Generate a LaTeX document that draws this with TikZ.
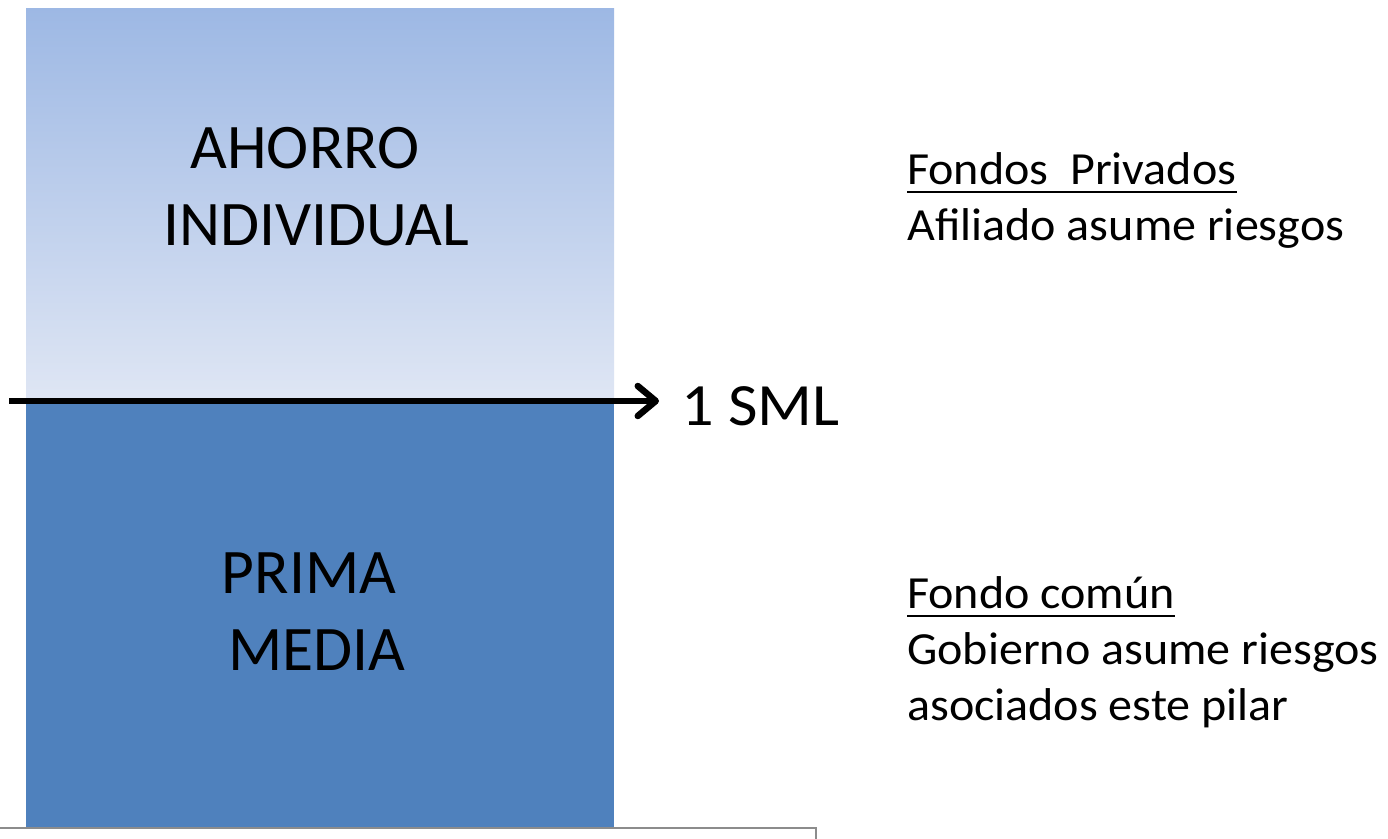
\documentclass[tikz,border=0pt]{standalone}
\usepackage{fontspec}
\setmainfont{Carlito}
\usetikzlibrary{arrows.meta}
\definecolor{topblue}{RGB}{157,184,228}
\definecolor{lowblue}{RGB}{223,230,244}
\definecolor{primablue}{RGB}{79,129,189}
\definecolor{boxgray}{RGB}{140,140,140}
\newcommand{\wide}[2]{\scalebox{#1}[1]{#2}}
\tikzset{
  bigtxt/.style={font=\fontsize{63.5}{77}\selectfont, inner sep=0pt, anchor=base},
  sidetxt/.style={font=\fontsize{46}{56}\selectfont, inner sep=0pt, anchor=base west},
  smltxt/.style={font=\fontsize{60}{70}\selectfont, inner sep=0pt, anchor=base west},
  uline/.style={line width=2pt},
}
\begin{document}
\begin{tikzpicture}[x=1pt,y=-1pt]
\useasboundingbox (0,0) rectangle (1388,838);
\clip (0,0) rectangle (1388,838);
% top gradient block
\shade[top color=topblue, bottom color=lowblue] (26,8) rectangle (614,401);
% bottom block
\fill[primablue] (26,401) rectangle (614,845);
% gray box at bottom
\draw[boxgray, line width=1.6pt, fill=white] (-3,828) rectangle (816,860);
% texts in blocks
\node[bigtxt] (ah) at (305,168) {AHORRO};
\node[bigtxt] (ind) at (316,245) {INDIVIDUAL};
\node[bigtxt] (pr) at (309,593) {PRIMA};
\node[bigtxt] (me) at (317,670) {MEDIA};
% arrow
\coordinate (astart) at (9,401);
\node[smltxt] (sml) at (681,425) {\wide{1.07}{1 SML}};
\coordinate (aend) at (659,401);
\draw[line width=5.5pt, -{Straight Barb[length=18pt,width=30pt,line width=6.5pt,round]}] (astart) -- (aend);
% right texts
\node[sidetxt] (fp) at (907,184) {\wide{1.045}{Fondos\ \ Privados}};
\draw[uline] ([yshift=-8pt]fp.base west) -- ([yshift=-8pt]fp.base east);
\node[sidetxt] (af) at (907,240) {\wide{1.045}{Afiliado asume riesgos}};
\node[sidetxt] (fc) at (907,608) {\wide{1.045}{Fondo común}};
\draw[uline] ([yshift=-8pt]fc.base west) -- ([yshift=-8pt]fc.base east);
\node[sidetxt] (go) at (907,664) {\wide{1.045}{Gobierno asume riesgos}};
\node[sidetxt] (as) at (907,720) {\wide{1.045}{asociados este pilar}};
\end{tikzpicture}
\end{document}
